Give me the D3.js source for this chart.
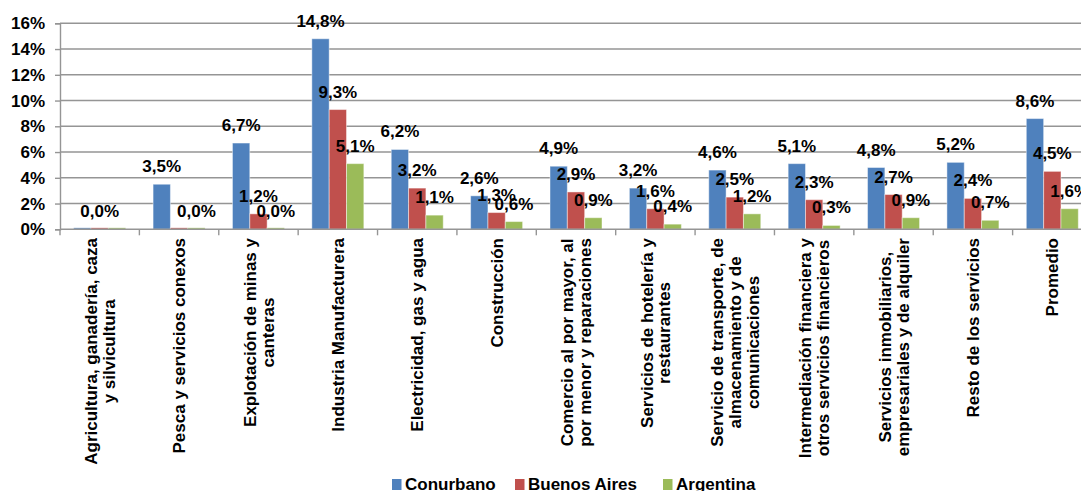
<!DOCTYPE html>
<html>
<head>
<meta charset="utf-8">
<script src="https://cdn.jsdelivr.net/npm/d3@7"></script>
<style>
  html, body { margin: 0; padding: 0; background: #fff; overflow: hidden; }
  svg { display: block; font-family: "Liberation Sans", Arial, sans-serif; }
</style>
</head>
<body>
<svg id="chart" width="1081" height="491"></svg>
<script>
const categories = [
  "Agricultura, ganadería, caza\ny silvicultura",
  "Pesca y servicios conexos",
  "Explotación de minas y\ncanteras",
  "Industria Manufacturera",
  "Electricidad, gas y agua",
  "Construcción",
  "Comercio al por mayor, al\npor menor y reparaciones",
  "Servicios de hotelería y\nrestaurantes",
  "Servicio de transporte, de\nalmacenamiento y de\ncomunicaciones",
  "Intermediación financiera y\notros servicios financieros",
  "Servicios inmobiliarios,\nempresariales  y de alquiler",
  "Resto de los servicios",
  "Promedio"
];
const seriesNames = ["Conurbano", "Buenos Aires", "Argentina"];
const conurbano   = [0.04, 3.5, 6.7, 14.8, 6.2, 2.6, 4.9, 3.2, 4.6, 5.1, 4.8, 5.2, 8.6];
const buenosAires = [0.04, 0.04, 1.2, 9.3, 3.2, 1.3, 2.9, 1.6, 2.5, 2.3, 2.7, 2.4, 4.5];
const argentina   = [0.04, 0.04, 0.04, 5.1, 1.1, 0.6, 0.9, 0.4, 1.2, 0.3, 0.9, 0.7, 1.6];
// data labels not shown in the original: [seriesIndex, categoryIndex]
const hiddenLabels = [[0, 0], [2, 0], [1, 1]];
const yTicks = [0, 2, 4, 6, 8, 10, 12, 14, 16];
const colors = ["#4F81BD", "#C0504D", "#9BBB59"];

const seriesValues = [conurbano, buenosAires, argentina];
const fmt = v => v.toFixed(1).replace(".", ",") + "%";

const svg = d3.select("#chart");
const mLeft = 60, mRight = 1092, mTop = 23.3, mBottom = 229.3;

const x0 = d3.scaleBand().domain(d3.range(categories.length)).range([mLeft, mRight]).padding(0);
const x1 = d3.scaleBand().domain(d3.range(seriesNames.length)).range([0, x0.bandwidth()])
  .paddingInner(0).paddingOuter(0.79);
const y = d3.scaleLinear().domain([0, 16]).range([mBottom, mTop]);

// gridlines
svg.append("g").selectAll("line").data(yTicks.filter(t => t > 0)).join("line")
  .attr("x1", mLeft).attr("x2", 1081)
  .attr("y1", d => y(d)).attr("y2", d => y(d))
  .attr("stroke", "#959595").attr("stroke-width", 1.4);

// y axis
const yAxis = d3.axisLeft(y).tickValues(yTicks).tickFormat(d => d + "%").tickSizeOuter(0).tickSize(5).tickPadding(10);
const gy = svg.append("g").attr("transform", `translate(${mLeft},0)`).call(yAxis);
gy.select(".domain").attr("stroke", "#959595").attr("stroke-width", 1.4);
gy.selectAll(".tick line").attr("stroke", "#959595").attr("stroke-width", 1.4);
gy.selectAll(".tick text").attr("font-size", 17).attr("font-weight", "bold").attr("fill", "#000")
  .attr("font-family", "'Liberation Sans', Arial, sans-serif");

// bars
const groups = svg.append("g").selectAll("g").data(categories.map((c, i) => i)).join("g")
  .attr("transform", i => `translate(${x0(i)},0)`);
groups.selectAll("rect").data(i => seriesValues.map((vals, s) => ({ s, v: vals[i] }))).join("rect")
  .attr("x", d => x1(d.s))
  .attr("width", x1.bandwidth())
  .attr("y", d => Math.min(y(d.v), mBottom - 1.5))
  .attr("height", d => Math.max(mBottom - y(d.v), 1.5))
  .attr("fill", d => colors[d.s])
  .attr("stroke", "rgba(255,255,255,0.45)").attr("stroke-width", 1);

// x axis line and category ticks
svg.append("line").attr("x1", mLeft).attr("x2", 1081).attr("y1", mBottom).attr("y2", mBottom)
  .attr("stroke", "#959595").attr("stroke-width", 1.4);
svg.append("g").selectAll("line").data(d3.range(categories.length + 1)).join("line")
  .attr("x1", i => mLeft + i * x0.step()).attr("x2", i => mLeft + i * x0.step())
  .attr("y1", mBottom).attr("y2", mBottom + 6)
  .attr("stroke", "#959595").attr("stroke-width", 1.4);

// category labels (rotated, multi-line, centered lines)
const measure = svg.append("text").attr("font-size", 17).attr("font-weight", "bold").attr("visibility", "hidden");
const lineH = 18;
categories.forEach((c, i) => {
  const lines = c.split("\n");
  const widths = lines.map(l => { measure.text(l); return measure.node().getComputedTextLength(); });
  const maxW = d3.max(widths);
  const cx = x0(i) + x0.bandwidth() / 2;
  const g = svg.append("g").attr("transform", `translate(${cx},238) rotate(-90)`);
  lines.forEach((l, k) => {
    g.append("text")
      .attr("x", -maxW / 2)
      .attr("y", (k - (lines.length - 1) / 2) * lineH)
      .attr("dy", "0.36em")
      .attr("text-anchor", "middle")
      .attr("font-size", 17).attr("font-weight", "bold").attr("fill", "#000")
      .text(l);
  });
});
measure.remove();

// data labels
const labelData = [];
seriesValues.forEach((vals, s) => vals.forEach((v, i) => {
  if (!hiddenLabels.some(h => h[0] === s && h[1] === i)) labelData.push({ s, i, v });
}));
svg.append("g").selectAll("text").data(labelData).join("text")
  .attr("x", d => x0(d.i) + x1(d.s) + x1.bandwidth() / 2)
  .attr("y", d => y(d.v) - 12)
  .attr("text-anchor", "middle")
  .attr("font-size", 17).attr("font-weight", "bold").attr("fill", "#000")
  .text(d => fmt(d.v));

// legend
const legendX = [392, 515, 663];
const lg = svg.append("g").selectAll("g").data(seriesNames).join("g")
  .attr("transform", (d, i) => `translate(${legendX[i]},0)`);
lg.append("rect").attr("x", 0).attr("y", 479).attr("width", 9.5).attr("height", 11)
  .attr("fill", (d, i) => colors[i]);
lg.append("text").attr("x", 13).attr("y", 489.5)
  .attr("font-size", 17).attr("font-weight", "bold").attr("fill", "#000")
  .text(d => d);
</script>
</body>
</html>
